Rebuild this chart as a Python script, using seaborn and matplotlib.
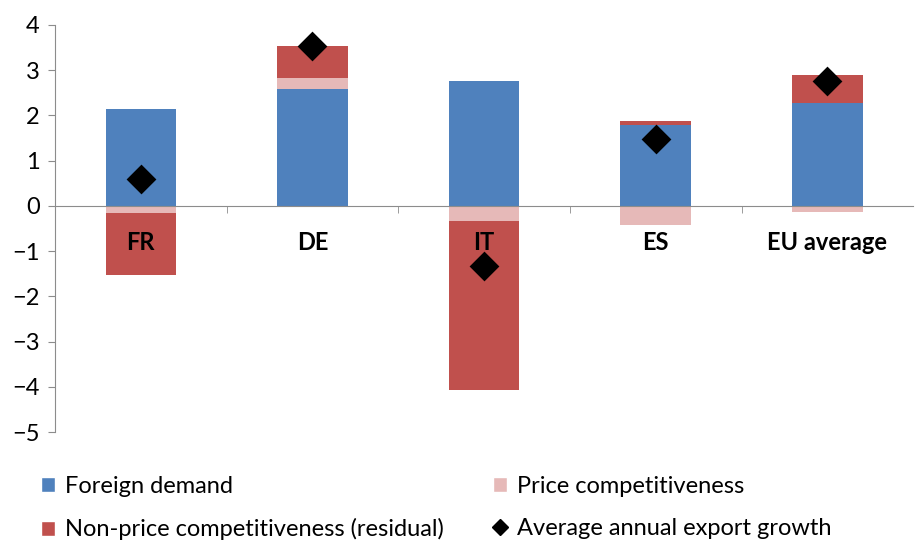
import numpy as np
import pandas as pd
import matplotlib.pyplot as plt
from matplotlib.lines import Line2D
from matplotlib.patches import Patch
import seaborn as sns

# data
countries = ["FR", "DE", "IT", "ES", "EU average"]
foreign_demand = [2.15, 2.59, 2.77, 1.79, 2.28]
price_comp = [-0.15, 0.24, -0.33, -0.42, -0.13]
non_price = [-1.38, 0.71, -3.74, 0.09, 0.62]
export_growth = [0.60, 3.54, -1.33, 1.48, 2.77]

series_names = ["Foreign demand", "Price competitiveness",
                "Non-price competitiveness (residual)"]
colors = ["#4F81BD", "#E6B9B8", "#C0504D"]

sns.set_style("white")
plt.rcParams['font.family'] = ['Lato', 'DejaVu Sans']
plt.rcParams['text.color'] = 'black'

fig = plt.figure(figsize=(9.15, 5.43), dpi=100)
ax = fig.add_axes([0.060, 0.2044, 0.938, 0.7496])

# stack positives upward and negatives downward
pos_base = np.zeros(len(countries))
neg_base = np.zeros(len(countries))
for name, vals, col in zip(series_names, [foreign_demand, price_comp, non_price], colors):
    vals = np.array(vals)
    bottoms = np.where(vals >= 0, pos_base, neg_base)
    df = pd.DataFrame({"country": countries, "value": vals})
    sns.barplot(data=df, x="country", y="value", color=col, width=0.41,
                bottom=bottoms, ax=ax, saturation=1, linewidth=0)
    pos_base = pos_base + np.clip(vals, 0, None)
    neg_base = neg_base + np.clip(vals, None, 0)

gdf = pd.DataFrame({"country": countries, "growth": export_growth})
sns.scatterplot(data=gdf, x="country", y="growth", marker="D", color="black",
                s=230, ax=ax, zorder=5, linewidth=0)

ax.set_xlim(-0.5, 4.5)
ax.set_ylim(-5, 4)
ax.set_yticks(range(-5, 5))
ax.set_xlabel("")
ax.set_ylabel("")

for s in ["top", "right"]:
    ax.spines[s].set_visible(False)
ax.spines["bottom"].set_position(("data", 0))
ax.spines["bottom"].set_color("#8C8C8C")
ax.spines["left"].set_color("#8C8C8C")
ax.spines["bottom"].set_zorder(1)

ax.tick_params(axis="y", direction="out", length=5, color="#8C8C8C",
               labelsize=17, pad=6, left=True, labelcolor="black")
ax.set_xticks(range(len(countries)))
ax.set_xticklabels(countries, fontweight="bold", fontsize=17)
ax.tick_params(axis="x", which="major", length=0, pad=18, labelcolor="black")
ax.set_xticks([0.5, 1.5, 2.5, 3.5], minor=True)
ax.tick_params(axis="x", which="minor", direction="out", length=5,
               color="#8C8C8C", bottom=True)
# category labels sit on top of the bars
ax.xaxis.set_zorder(10)

handles = [Patch(facecolor=colors[0]), Patch(facecolor=colors[2]),
           Patch(facecolor=colors[1]),
           Line2D([], [], marker="D", color="black", linestyle="", markersize=8)]
labels = [series_names[0], series_names[2], series_names[1], "Average annual export growth"]
fig.legend(handles, labels, ncol=2, loc="upper left", bbox_to_anchor=(0.045, 0.124),
           frameon=False, fontsize=17, handlelength=0.6, handleheight=0.6,
           handletextpad=0.4, columnspacing=2.1, labelspacing=0.92,
           borderaxespad=0, borderpad=0)

fig.savefig("out.png", dpi=100)
